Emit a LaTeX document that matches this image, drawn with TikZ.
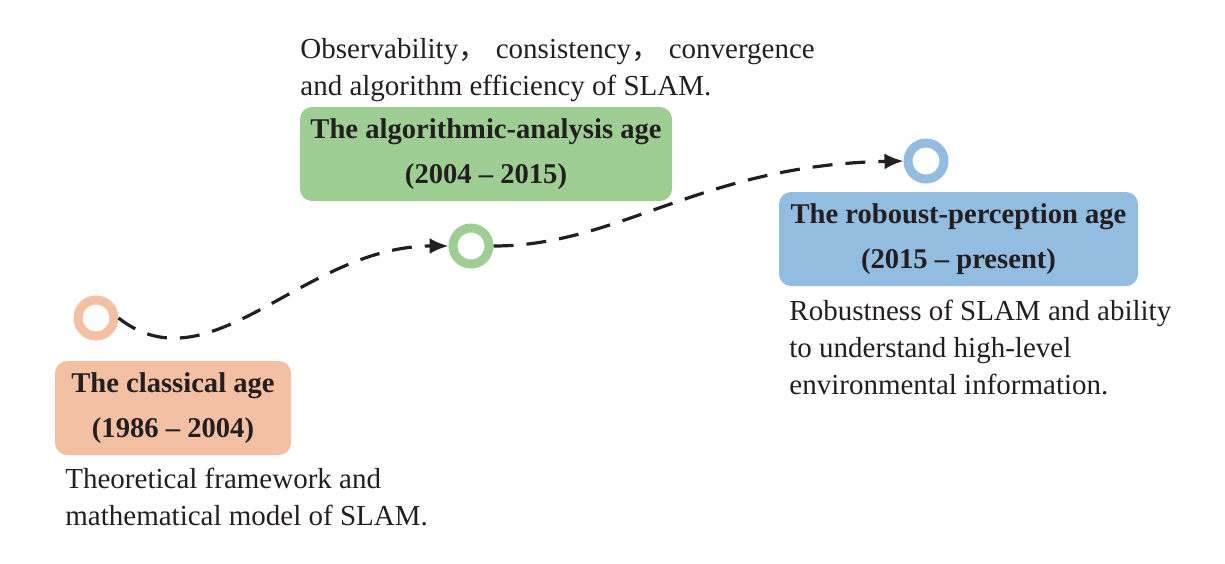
\documentclass[tikz,border=0pt]{standalone}
\usepackage{fontspec}
\setmainfont{Liberation Serif}
\newfontfamily\cjk{Noto Sans CJK SC}
\usetikzlibrary{arrows.meta}
\definecolor{classicfill}{HTML}{F4C0A4}
\definecolor{analysisfill}{HTML}{9FCE94}
\definecolor{perceptfill}{HTML}{92BCE0}
\definecolor{inktext}{HTML}{231F20}
\tikzset{
  agebox/.style={fill=#1, rounded corners=6pt, inner sep=0pt, align=center,
    text=inktext, font=\fontsize{14.3}{22.5}\selectfont\bfseries,
    minimum height=47pt},
  ring/.style={circle, draw=#1, fill=white, line width=4.5pt,
    minimum size=18pt, inner sep=0pt},
  note/.style={anchor=north west, inner sep=0pt, align=left, text=inktext,
    font=\fontsize{14.5}{18.5}\selectfont},
  era/.style={line width=1.6pt, draw=inktext, dash pattern=on 10pt off 6.5pt,
    -{Latex[length=9.5pt,width=8pt]}}
}
\begin{document}
\begin{tikzpicture}[x=0.5pt, y=-0.5pt]
  \useasboundingbox (0,0) rectangle (1225,563);
  % milestones
  \node[ring=classicfill]  (classic)  at (96,318)  {};
  \node[ring=analysisfill] (analysis) at (471,246) {};
  \node[ring=perceptfill]  (percept)  at (926,161) {};
  % the three ages
  \node[agebox=classicfill, minimum width=118pt]  (classicbox)  at (173,408)
    {The classical age\\(1986 -- 2004)};
  \node[agebox=analysisfill, minimum width=186pt] (analysisbox) at (486,154)
    {The algorithmic-analysis age\\(2004 -- 2015)};
  \node[agebox=perceptfill, minimum width=179.5pt] (perceptbox) at (958.5,239)
    {The roboust-perception age\\(2015 -- present)};
  % what each age is about
  \node[note] (classicnote) at (65,468)
    {Theoretical framework and\\mathematical model of SLAM.};
  \node[note] (analysisnote) at (300,38)
    {Observability{\cjk ，}\hspace{4.3pt}consistency{\cjk ，}\hspace{4.3pt}convergence\\and algorithm efficiency of SLAM.};
  \node[note] (perceptnote) at (789,300)
    {Robustness of SLAM and ability\\to understand high-level\\environmental information.};
  % timeline
  \draw[era] (classic.east) .. controls +(92,72) and +(-145,0) .. (analysis.west);
  \draw[era] (analysis.east) .. controls +(126,0) and +(-203,4) .. (percept.west);
\end{tikzpicture}
\end{document}
